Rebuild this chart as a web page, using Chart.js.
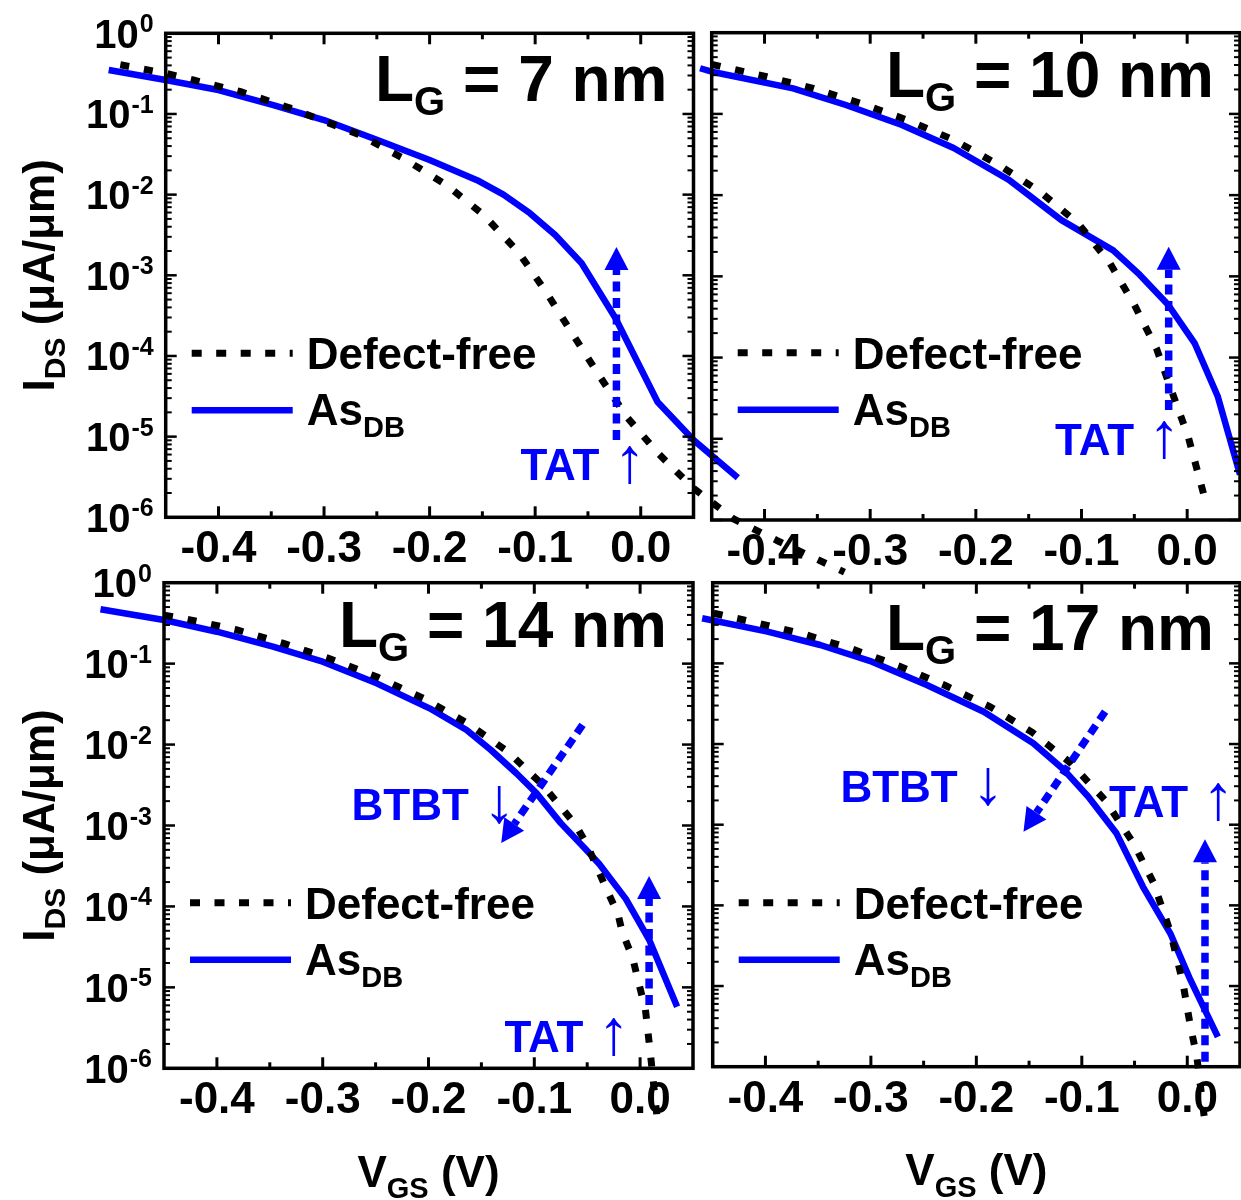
<!DOCTYPE html>
<html lang="en">
<head>
<meta charset="UTF-8">
<title>IDS - VGS for four gate lengths</title>
<style>
  html, body { margin: 0; padding: 0; background: #fff; overflow: hidden; }
  #wrap { position: relative; width: 1241px; height: 1200px; }
  #wrap canvas { position: absolute; left: 0; top: 0; }
</style>
<script src="https://cdn.jsdelivr.net/npm/chart.js"></script>
</head>
<body>
<div id="wrap">
  <canvas id="p07" width="1241" height="1200"></canvas>
  <canvas id="p10" width="1241" height="1200"></canvas>
  <canvas id="p14" width="1241" height="1200"></canvas>
  <canvas id="p17" width="1241" height="1200"></canvas>
</div>
<script>
// axis ticks
const yTickValues = [1, 1e-1, 1e-2, 1e-3, 1e-4, 1e-5, 1e-6];
const yTickExponents = ['0', '-1', '-2', '-3', '-4', '-5', '-6'];
const xTickValues = [-0.4, -0.3, -0.2, -0.1, 0.0];
const xTickLabels = ['-0.4', '-0.3', '-0.2', '-0.1', '0.0'];
const xMinorValues = [-0.35, -0.25, -0.15, -0.05];

// L_G = 7 nm
const vgs07Free = [-0.493, -0.45, -0.424, -0.379, -0.332, -0.266, -0.225, -0.184, -0.149, -0.116, -0.089, -0.064, -0.0385, -0.013, 0.0167, 0.05, 0.088, 0.131, 0.193];
const ids07Free = [0.407, 0.319, 0.264, 0.189, 0.118, 0.055, 0.0282, 0.0132, 5.62e-3, 1.95e-3, 6.03e-4, 1.82e-4, 5.5e-5, 1.74e-5, 6.17e-6, 2.29e-6, 9.55e-7, 5.01e-7, 2.09e-7];
const vgs07As = [-0.504, -0.45, -0.40, -0.348, -0.30, -0.25, -0.20, -0.155, -0.13, -0.105, -0.081, -0.056, -0.024, 0.016, 0.05, 0.092];
const ids07As = [0.351, 0.264, 0.198, 0.129, 0.0841, 0.0479, 0.0269, 0.0151, 0.0100, 5.89e-3, 3.16e-3, 1.41e-3, 2.95e-4, 2.69e-5, 9.1e-6, 3.09e-6];

// L_G = 10 nm
const vgs10Free = [-0.45, -0.398, -0.354, -0.309, -0.265, -0.221, -0.178, -0.139, -0.103, -0.073, -0.050, -0.029, -0.015, 0.001, 0.017];
const ids10Free = [0.407, 0.287, 0.2065, 0.1349, 0.0841, 0.0479, 0.02344, 0.01096, 4.47e-3, 1.445e-3, 4.47e-4, 1.288e-4, 3.98e-5, 1.06e-5, 1.78e-6];
const vgs10As = [-0.461, -0.45, -0.373, -0.323, -0.270, -0.221, -0.169, -0.119, -0.070, -0.045, -0.018, 0.007, 0.029, 0.05];
const ids10As = [0.365, 0.331, 0.2065, 0.1288, 0.0729, 0.0380, 0.01549, 4.93e-3, 2.09e-3, 1.047e-3, 4.47e-4, 1.51e-4, 3.31e-5, 3.63e-6];

// L_G = 14 nm
const vgs14Free = [-0.45, -0.428, -0.381, -0.337, -0.292, -0.248, -0.205, -0.164, -0.125, -0.092, -0.061, -0.050, -0.032, -0.021, -0.017, -0.007, -0.001, 0.005, 0.010, 0.013, 0.016];
const ids14Free = [0.398, 0.353, 0.2606, 0.1782, 0.1132, 0.0678, 0.0373, 0.01862, 8.17e-3, 3.16e-3, 1.023e-3, 5.75e-4, 1.66e-4, 8.13e-5, 4.9e-5, 2.29e-5, 1.096e-5, 5.37e-6, 1.41e-6, 5.89e-7, 2.51e-7];
const vgs14As = [-0.51, -0.45, -0.40, -0.347, -0.30, -0.249, -0.199, -0.164, -0.141, -0.117, -0.098, -0.075, -0.051, -0.0386, -0.0135, 0.0085, 0.035];
const ids14As = [0.469, 0.346, 0.248, 0.1622, 0.1057, 0.0571, 0.02805, 0.01514, 8.57e-3, 4.42e-3, 2.51e-3, 1.07e-3, 5.01e-4, 3.34e-4, 1.24e-4, 3.89e-5, 5.75e-6];

// L_G = 17 nm
const vgs17Free = [-0.449, -0.409, -0.364, -0.318, -0.274, -0.229, -0.187, -0.147, -0.111, -0.078, -0.051, -0.032, -0.016, -0.004, 0.003, 0.009, 0.017];
const ids17Free = [0.418, 0.319, 0.2312, 0.1507, 0.0935, 0.0528, 0.0290, 0.01396, 5.87e-3, 2.02e-3, 5.89e-4, 1.905e-4, 4.68e-5, 1.07e-5, 3.16e-6, 1.35e-6, 1.91e-7];
const vgs17As = [-0.46, -0.398, -0.348, -0.299, -0.247, -0.193, -0.146, -0.117, -0.094, -0.067, -0.042, -0.016, 0.003, 0.029];
const ids17As = [0.362, 0.247, 0.169, 0.105, 0.0540, 0.0251, 0.01023, 4.79e-3, 2.24e-3, 7.76e-4, 1.70e-4, 4.47e-5, 1.19e-5, 2.34e-6];

const FONT = '"Liberation Sans", Arial, Helvetica, sans-serif';
const BLUE = '#0000ff';
const W = 1241, H = 1200;

// panel layout + annotations (annotation points are in axis units)
const panels = [
  { id: 'p07', area: { left: 165.7, top: 33.3, right: 693.5, bottom: 517.3 }, lg: '7',
    vFree: vgs07Free, iFree: ids07Free, vAs: vgs07As, iAs: ids07As,
    yLabels: true, xTitle: false, titleDy: 68,
    arrows: [{ x0: -0.023, y0: 9.1e-6, x1: -0.023, y1: 2.25e-3 }],
    notes: [{ x: -0.114, y: 2.9e-6, text: 'TAT', glyph: '\u2191' }] },
  { id: 'p10', area: { left: 711.7, top: 32.7, right: 1240, bottom: 520 }, lg: '10',
    vFree: vgs10Free, iFree: ids10Free, vAs: vgs10As, iAs: ids10As,
    yLabels: false, xTitle: false, titleDy: 64,
    arrows: [{ x0: -0.0175, y0: 2.26e-5, x1: -0.0175, y1: 2.32e-3 }],
    notes: [{ x: -0.125, y: 6.3e-6, text: 'TAT', glyph: '\u2191' }] },
  { id: 'p14', area: { left: 164, top: 582.7, right: 693, bottom: 1068.3 }, lg: '14',
    vFree: vgs14Free, iFree: ids14Free, vAs: vgs14As, iAs: ids14As,
    yLabels: true, xTitle: true, titleDy: 64,
    arrows: [{ x0: -0.0544, y0: 0.01746, x1: -0.1313, y1: 6.08e-4 },
             { x0: 0.0085, y0: 6.05e-6, x1: 0.0085, y1: 2.38e-4 }],
    notes: [{ x: -0.2727, y: 1.17e-3, text: 'BTBT', glyph: '\u2193' },
            { x: -0.1282, y: 1.58e-6, text: 'TAT', glyph: '\u2191' }] },
  { id: 'p17', area: { left: 712.7, top: 582.7, right: 1240, bottom: 1066.7 }, lg: '17',
    vFree: vgs17Free, iFree: ids17Free, vAs: vgs17As, iAs: ids17As,
    yLabels: false, xTitle: true, titleDy: 67,
    arrows: [{ x0: -0.0779, y0: 0.0252, x1: -0.1553, y1: 8.18e-4 },
             { x0: 0.0168, y0: 1.15e-6, x1: 0.0168, y1: 6.59e-4 }],
    notes: [{ x: -0.3289, y: 1.93e-3, text: 'BTBT', glyph: '\u2193' },
            { x: -0.0741, y: 1.25e-3, text: 'TAT', glyph: '\u2191' }] }
];
const panelById = {};
panels.forEach(p => { panelById[p.id] = p; });

// text made of runs (for subscripts / superscripts)
function richText(ctx, parts, x, y, align) {
  let total = 0;
  parts.forEach(p => {
    ctx.font = (p.w || 'bold') + ' ' + p.size + 'px ' + FONT;
    p.width = ctx.measureText(p.t).width;
    total += p.width;
  });
  let cx = align === 'right' ? x - total : (align === 'center' ? x - total / 2 : x);
  ctx.textAlign = 'left';
  ctx.textBaseline = 'alphabetic';
  parts.forEach(p => {
    ctx.font = (p.w || 'bold') + ' ' + p.size + 'px ' + FONT;
    ctx.fillText(p.t, cx, y + (p.dy || 0));
    cx += p.width;
  });
  return total;
}

function seg(ctx, x0, y0, x1, y1) {
  ctx.beginPath(); ctx.moveTo(x0, y0); ctx.lineTo(x1, y1); ctx.stroke();
}

function dottedArrow(ctx, x0, y0, x1, y1) {
  const dx = x1 - x0, dy = y1 - y0, len = Math.hypot(dx, dy);
  const ux = dx / len, uy = dy / len;
  const headLen = 23, headHalf = 12;
  const bx = x1 - ux * headLen, by = y1 - uy * headLen;
  ctx.strokeStyle = BLUE; ctx.fillStyle = BLUE;
  ctx.lineWidth = 7.5; ctx.lineCap = 'butt';
  ctx.setLineDash([10, 6.5]);
  seg(ctx, x0, y0, bx, by);
  ctx.setLineDash([]);
  ctx.beginPath();
  ctx.moveTo(x1, y1);
  ctx.lineTo(bx - uy * headHalf, by + ux * headHalf);
  ctx.lineTo(bx + uy * headHalf, by - ux * headHalf);
  ctx.closePath();
  ctx.fill();
}

const decorPlugin = {
  id: 'decor',
  afterDraw(chart) {
    const p = panelById[chart.canvas.id];
    if (!p) return;
    const ctx = chart.ctx, a = chart.chartArea, xs = chart.scales.x, ys = chart.scales.y;
    ctx.save();
    ctx.fillStyle = '#000'; ctx.strokeStyle = '#000';

    // frame
    ctx.lineWidth = 3.5;
    ctx.strokeRect(a.left, a.top, a.right - a.left, a.bottom - a.top);

    // ticks, inside on all four sides
    ctx.lineWidth = 3;
    xTickValues.forEach(v => {
      const px = xs.getPixelForValue(v);
      seg(ctx, px, a.bottom, px, a.bottom - 11);
      seg(ctx, px, a.top, px, a.top + 11);
    });
    xMinorValues.forEach(v => {
      const px = xs.getPixelForValue(v);
      seg(ctx, px, a.bottom, px, a.bottom - 6);
      seg(ctx, px, a.top, px, a.top + 6);
    });
    ctx.lineWidth = 2.5;
    yTickValues.forEach(v => {
      const py = ys.getPixelForValue(v);
      seg(ctx, a.left, py, a.left + 11, py);
      seg(ctx, a.right, py, a.right - 11, py);
    });
    ctx.lineWidth = 2;
    for (let d = -6; d < 0; d++) {
      for (let k = 2; k <= 9; k++) {
        const py = ys.getPixelForValue(k * Math.pow(10, d));
        seg(ctx, a.left, py, a.left + 6, py);
        seg(ctx, a.right, py, a.right - 6, py);
      }
    }

    // x tick labels
    ctx.font = 'bold 44px ' + FONT;
    ctx.textAlign = 'center'; ctx.textBaseline = 'alphabetic';
    xTickValues.forEach((v, i) => {
      ctx.fillText(xTickLabels[i], xs.getPixelForValue(v), a.bottom + 45);
    });

    // y tick labels 10^n and y title
    if (p.yLabels) {
      yTickValues.forEach((v, i) => {
        const py = ys.getPixelForValue(v);
        ctx.font = 'bold 25px ' + FONT;
        ctx.textAlign = 'right';
        ctx.fillText(yTickExponents[i], a.left - 12, py - 1);
        const ew = ctx.measureText(yTickExponents[i]).width;
        ctx.font = 'bold 40px ' + FONT;
        ctx.fillText('10', a.left - 13 - ew, py + 14.5);
      });
      ctx.save();
      ctx.translate(53.5, (a.top + a.bottom) / 2);
      ctx.rotate(-Math.PI / 2);
      richText(ctx, [{ t: 'I', size: 44 }, { t: 'DS', size: 30, dy: 11 }, { t: ' (\u03bcA/\u03bcm)', size: 44 }], 0, 0, 'center');
      ctx.restore();
    }

    // x title
    if (p.xTitle) {
      richText(ctx, [{ t: 'V', size: 44 }, { t: 'GS', size: 29, dy: 11.5 }, { t: ' (V)', size: 44 }],
        (a.left + a.right) / 2, a.bottom + 118.5, 'center');
    }

    // panel title
    richText(ctx, [{ t: 'L', size: 64 }, { t: 'G', size: 40, dy: 14 }, { t: ' = ' + p.lg + ' nm', size: 64 }],
      a.right - 26, a.top + p.titleDy, 'right');

    // legend
    const lx0 = a.left + 26, lx1 = a.left + 127;
    ctx.lineCap = 'butt';
    ctx.strokeStyle = '#000'; ctx.lineWidth = 7; ctx.setLineDash([10, 14.5]);
    seg(ctx, lx0, a.top + 320, lx1, a.top + 320);
    ctx.setLineDash([]);
    ctx.strokeStyle = BLUE; ctx.lineWidth = 6.5;
    seg(ctx, lx0, a.top + 377, lx1, a.top + 377);
    ctx.fillStyle = '#000';
    richText(ctx, [{ t: 'Defect-free', size: 44 }], a.left + 141, a.top + 336, 'left');
    richText(ctx, [{ t: 'As', size: 44 }, { t: 'DB', size: 29, dy: 12 }], a.left + 141, a.top + 392, 'left');

    // annotations
    p.arrows.forEach(ar => {
      dottedArrow(ctx, xs.getPixelForValue(ar.x0), ys.getPixelForValue(ar.y0),
        xs.getPixelForValue(ar.x1), ys.getPixelForValue(ar.y1));
    });
    ctx.fillStyle = BLUE;
    p.notes.forEach(n => {
      const px = xs.getPixelForValue(n.x), py = ys.getPixelForValue(n.y);
      const w = richText(ctx, [{ t: n.text, size: 44 }], px, py, 'left');
      richText(ctx, [{ t: n.glyph, size: 64, w: 'normal' }], px + w + 14, py + 2, 'left');
    });

    ctx.restore();
  }
};

panels.forEach(p => {
  new Chart(document.getElementById(p.id), {
    type: 'line',
    data: {
      datasets: [
        {
          label: 'Defect-free',
          data: p.vFree.map((v, i) => ({ x: v, y: p.iFree[i] })),
          borderColor: '#000',
          borderWidth: 7,
          borderDash: [9, 15],
          borderCapStyle: 'butt',
          pointRadius: 0,
          fill: false,
          clip: false
        },
        {
          label: 'AsDB',
          data: p.vAs.map((v, i) => ({ x: v, y: p.iAs[i] })),
          borderColor: BLUE,
          borderWidth: 6.5,
          borderJoinStyle: 'round',
          pointRadius: 0,
          fill: false,
          clip: false
        }
      ]
    },
    options: {
      responsive: false,
      devicePixelRatio: 1,
      animation: false,
      events: [],
      layout: {
        padding: { left: p.area.left, top: p.area.top, right: W - p.area.right, bottom: H - p.area.bottom }
      },
      plugins: { legend: { display: false }, tooltip: { enabled: false } },
      scales: {
        x: {
          type: 'linear',
          display: false,
          bounds: 'data',
          afterDataLimits: s => { s.min = -0.45; s.max = 0.05; }
        },
        y: {
          type: 'logarithmic',
          display: false,
          bounds: 'data',
          min: 1e-6,
          max: 1
        }
      }
    },
    plugins: [decorPlugin]
  });
});
</script>
</body>
</html>
